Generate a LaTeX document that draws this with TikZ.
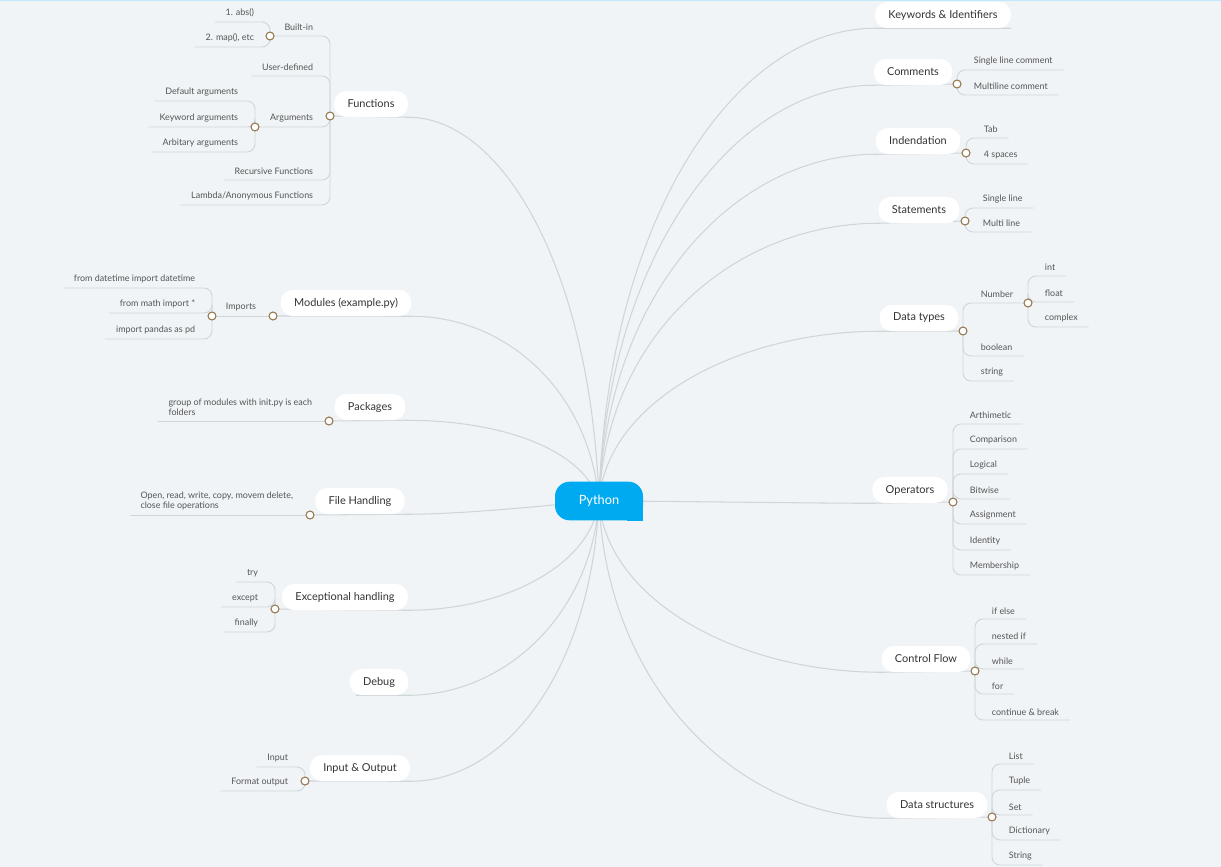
\documentclass[tikz,border=0pt]{standalone}
\usepackage{fontspec}
\setmainfont{Lato}
\usetikzlibrary{positioning}
\definecolor{bgcol}{RGB}{240,244,247}
\definecolor{pyblue}{RGB}{0,170,240}
\definecolor{linecol}{RGB}{208,213,218}
\definecolor{dotcol}{RGB}{150,120,80}
\definecolor{topiccol}{RGB}{51,51,51}
\definecolor{leafcol}{RGB}{85,85,85}
\pgfdeclarelayer{bg}
\pgfsetlayers{bg,main}

\begin{document}
\begin{tikzpicture}[x=0.75pt,y=-0.75pt,
    topic/.style={fill=white, rounded corners=9pt, minimum height=19.5pt, inner xsep=10pt, inner ysep=0pt, font=\fontsize{8.2}{10}\selectfont, text=topiccol},
    leaf/.style={inner xsep=8pt, inner ysep=3.5pt, font=\fontsize{6.7}{7.8}\selectfont, text=leafcol},
    leafL/.style={leaf, anchor=south east},
    leafR/.style={leaf, anchor=south west},
    dot/.style={circle, draw=dotcol, fill=white, line width=0.8pt, minimum size=6pt, inner sep=0pt},
    branch/.style={draw=linecol, line width=0.8pt},
    twig/.style={draw=linecol, line width=0.7pt, rounded corners=6pt}]

            \useasboundingbox (0,0) rectangle (1221,867);

            % Centre
            \node[fill=pyblue, rounded corners=11pt, minimum width=66pt, minimum height=29pt, text=white, font=\fontsize{9.6}{12}\selectfont] (python) at (599,501) {Python};
            \fill[pyblue] (python.south east) rectangle ([xshift=-12pt,yshift=12pt]python.south east);

            % Topics, left
            \node[topic] (functions) at (371,104) {Functions};
            \node[topic] (modules) at (346,303) {Modules (example.py)};
            \node[topic] (packages) at (370,407) {Packages};
            \node[topic] (files) at (360,501) {File Handling};
            \node[topic] (handling) at (345,597) {Exceptional handling};
            \node[topic] (debug) at (379,682) {Debug};
            \node[topic] (io) at (360,768) {Input \& Output};

            % Topics, right
            \node[topic] (keywords) at (943,15) {Keywords \& Identifiers};
            \node[topic] (comments) at (913,72) {Comments};
            \node[topic] (indent) at (918,141) {Indendation};
            \node[topic] (statements) at (919,210) {Statements};
            \node[topic] (datatypes) at (919,318) {Data types};
            \node[topic] (operators) at (910,490) {Operators};
            \node[topic] (control) at (926,659) {Control Flow};
            \node[topic] (structures) at (937,805) {Data structures};

            % Dots
            \node[dot] (fnDot) at (330,116) {};
            \node[dot] (bltDot) at (270,36) {};
            \node[dot] (argDot) at (255,127) {};
            \node[dot] (modDot) at (273,316) {};
            \node[dot] (impDot) at (212,316) {};
            \node[dot] (pkgDot) at (329,421) {};
            \node[dot] (fileDot) at (310,515) {};
            \node[dot] (excDot) at (275,609) {};
            \node[dot] (ioDot) at (305,781) {};
            \node[dot] (comDot) at (957,84) {};
            \node[dot] (indDot) at (966,153) {};
            \node[dot] (stmDot) at (965,221) {};
            \node[dot] (dtDot) at (963,331) {};
            \node[dot] (numDot) at (1028,303) {};
            \node[dot] (opDot) at (953,502) {};
            \node[dot] (cfDot) at (975,671) {};
            \node[dot] (dsDot) at (992,817) {};

            % Leaves, left
            \node[leafL] (builtin) at (324,36) {Built-in};
            \node[leafL] (userdef) at (324,76) {User-defined};
            \node[leafL] (args) at (324,127) {Arguments};
            \node[leafL] (recursive) at (324,180) {Recursive Functions};
            \node[leafL] (lambda) at (324,205) {Lambda/Anonymous Functions};
            \node[leafL] (abs) at (265,22) {1. abs()};
            \node[leafL] (map) at (265,47) {2. map(), etc};
            \node[leafL] (default) at (249,101) {Default arguments};
            \node[leafL] (keyword) at (249,127) {Keyword arguments};
            \node[leafL] (arbitary) at (249,152) {Arbitary arguments};
            \node[leafL] (imports) at (267,316) {Imports};
            \node[leafL] (datetime) at (206,288) {from datetime import datetime};
            \node[leafL] (mathimp) at (206,313) {from math import *};
            \node[leafL] (pandas) at (206,339) {import pandas as pd};
            \node[leafL, align=left] (pkgtext) at (323,421) {group of modules with init.py is each\\folders};
            \node[leafL, align=left] (filetext) at (304,515) {Open, read, write, copy, movem delete,\\close file operations};
            \node[leafL] (try) at (269,582) {try};
            \node[leafL] (except) at (269,607) {except};
            \node[leafL] (finally) at (269,632) {finally};
            \node[leafL] (input) at (299,767) {Input};
            \node[leafL] (format) at (299,791) {Format output};

            % Leaves, right
            \node[leafR] (singlecom) at (963,70) {Single line comment};
            \node[leafR] (multicom) at (963,95) {Multiline comment};
            \node[leafR] (tab) at (973,138) {Tab};
            \node[leafR] (spaces) at (973,164) {4 spaces};
            \node[leafR] (sline) at (972,208) {Single line};
            \node[leafR] (mline) at (972,232) {Multi line};
            \node[leafR] (number) at (970,303) {Number};
            \node[leafR] (boolean) at (970,356) {boolean};
            \node[leafR] (string) at (970,381) {string};
            \node[leafR] (int) at (1034,276) {int};
            \node[leafR] (float) at (1034,302) {float};
            \node[leafR] (complex) at (1034,327) {complex};
            \node[leafR] (arith) at (959,424) {Arthimetic};
            \node[leafR] (compare) at (959,449) {Comparison};
            \node[leafR] (logical) at (959,474) {Logical};
            \node[leafR] (bitwise) at (959,499) {Bitwise};
            \node[leafR] (assign) at (959,524) {Assignment};
            \node[leafR] (identity) at (959,550) {Identity};
            \node[leafR] (member) at (959,575) {Membership};
            \node[leafR] (ifelse) at (981,619) {if else};
            \node[leafR] (nested) at (981,644) {nested if};
            \node[leafR] (while) at (981,669) {while};
            \node[leafR] (for) at (981,694) {for};
            \node[leafR] (contbreak) at (981,720) {continue \& break};
            \node[leafR] (list) at (998,764) {List};
            \node[leafR] (tuple) at (998,790) {Tuple};
            \node[leafR] (set) at (998,815) {Set};
            \node[leafR] (dict) at (998,840) {Dictionary};
            \node[leafR] (str) at (998,865) {String};

            \begin{pgfonlayer}{bg}
            \fill[bgcol] (0,0) rectangle (1221,867);
            \draw[cyan!25, line width=1pt] (0,0.7) -- (1221,0.7);

            % Branches
            \draw[branch] (python.center) .. controls +(-8,-230) and +(95,0) .. (functions.south east) -- (fnDot);
            \draw[branch] (python.center) .. controls +(-10,-110) and +(95,0) .. (modules.south east) -- (modDot);
            \draw[branch] (python.center) .. controls +(-15,-50) and +(100,0) .. (packages.south east) -- (pkgDot);
            \draw[branch] (python.center) .. controls +(-60,5) and +(60,0) .. (files.south east) -- (fileDot);
            \draw[branch] (python.center) .. controls +(-8,65) and +(95,0) .. (handling.south east) -- (excDot);
            \draw[branch] (python.center) .. controls +(-8,115) and +(95,0) .. (debug.south east) -- ([xshift=5pt]debug.south west);
            \draw[branch] (python.center) .. controls +(-8,170) and +(95,0) .. (io.south east) -- (ioDot);
            \draw[branch] (python.center) .. controls +(8,-285) and +(-138,0) .. (keywords.south west) -- (keywords.south east);
            \draw[branch] (python.center) .. controls +(8,-250) and +(-137,0) .. (comments.south west) -- (comDot);
            \draw[branch] (python.center) .. controls +(8,-210) and +(-140,0) .. (indent.south west) -- (indDot);
            \draw[branch] (python.center) .. controls +(8,-170) and +(-141,0) .. (statements.south west) -- (stmDot);
            \draw[branch] (python.center) .. controls +(8,-100) and +(-141,0) .. (datatypes.south west) -- (dtDot);
            \draw[branch] (python.center) .. controls +(60,0) and +(-60,0) .. (operators.south west) -- (opDot);
            \draw[branch] (python.center) .. controls +(8,100) and +(-142,0) .. (control.south west) -- (cfDot);
            \draw[branch] (python.center) .. controls +(8,190) and +(-145,0) .. (structures.south west) -- (dsDot);

            % Twigs, left
            \draw[twig] (fnDot) |- (bltDot);
            \draw[twig] (fnDot) |- (userdef.south west);
            \draw[twig] (fnDot) |- (argDot);
            \draw[twig] (fnDot) |- (recursive.south west);
            \draw[twig] (fnDot) |- (lambda.south west);
            \draw[twig] (bltDot) |- (abs.south west);
            \draw[twig] (bltDot) |- (map.south west);
            \draw[twig] (argDot) |- (default.south west);
            \draw[twig] (argDot) |- (keyword.south west);
            \draw[twig] (argDot) |- (arbitary.south west);
            \draw[twig] (modDot) -- (impDot);
            \draw[twig] (impDot) |- (datetime.south west);
            \draw[twig] (impDot) |- (mathimp.south west);
            \draw[twig] (impDot) |- (pandas.south west);
            \draw[twig] (pkgDot) -- (pkgtext.south west);
            \draw[twig] (fileDot) -- (filetext.south west);
            \draw[twig] (excDot) |- (try.south west);
            \draw[twig] (excDot) |- (except.south west);
            \draw[twig] (excDot) |- (finally.south west);
            \draw[twig] (ioDot) |- (input.south west);
            \draw[twig] (ioDot) |- (format.south west);

            % Twigs, right
            \draw[twig] (comDot) |- (singlecom.south east);
            \draw[twig] (comDot) |- (multicom.south east);
            \draw[twig] (indDot) |- (tab.south east);
            \draw[twig] (indDot) |- (spaces.south east);
            \draw[twig] (stmDot) |- (sline.south east);
            \draw[twig] (stmDot) |- (mline.south east);
            \draw[twig] (dtDot) |- (numDot);
            \draw[twig] (dtDot) |- (boolean.south east);
            \draw[twig] (dtDot) |- (string.south east);
            \draw[twig] (numDot) |- (int.south east);
            \draw[twig] (numDot) |- (float.south east);
            \draw[twig] (numDot) |- (complex.south east);
            \foreach \n in {arith,compare,logical,bitwise,assign,identity,member}
                \draw[twig] (opDot) |- (\n.south east);
            \foreach \n in {ifelse,nested,while,for,contbreak}
                \draw[twig] (cfDot) |- (\n.south east);
            \foreach \n in {list,tuple,set,dict,str}
                \draw[twig] (dsDot) |- (\n.south east);
            \end{pgfonlayer}
        \end{tikzpicture}
\end{document}
